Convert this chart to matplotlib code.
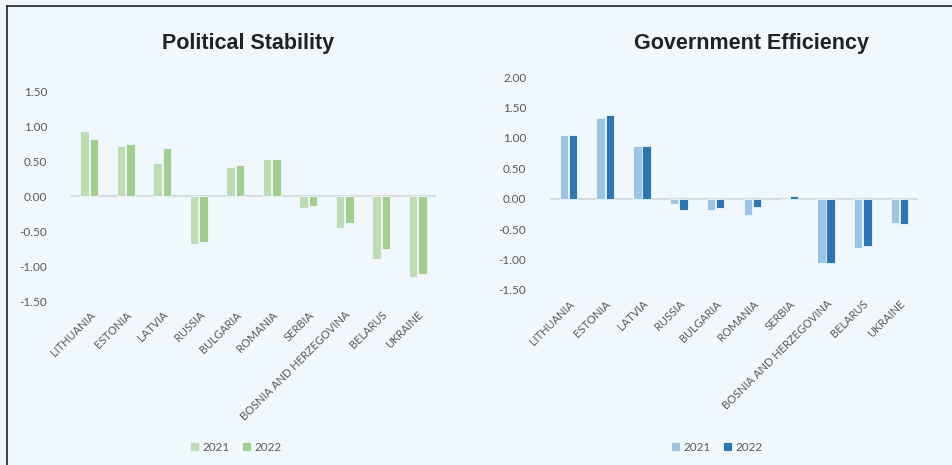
import matplotlib
matplotlib.use("Agg")
import matplotlib.pyplot as plt
import numpy as np

countries = ["LITHUANIA", "ESTONIA", "LATVIA", "RUSSIA", "BULGARIA", "ROMANIA",
             "SERBIA", "BOSNIA AND HERZEGOVINA", "BELARUS", "UKRAINE"]
years = ["2021", "2022"]

stability_2021 = [0.93, 0.72, 0.47, -0.69, 0.42, 0.53, -0.17, -0.45, -0.90, -1.15]
stability_2022 = [0.81, 0.75, 0.68, -0.65, 0.45, 0.53, -0.14, -0.39, -0.75, -1.11]

efficiency_2021 = [1.05, 1.32, 0.87, -0.09, -0.19, -0.27, -0.02, -1.05, -0.81, -0.40]
efficiency_2022 = [1.05, 1.37, 0.87, -0.19, -0.15, -0.14, 0.04, -1.05, -0.78, -0.42]

stability_ticks = [-1.5, -1.0, -0.5, 0.0, 0.5, 1.0, 1.5]
efficiency_ticks = [-1.5, -1.0, -0.5, 0.0, 0.5, 1.0, 1.5, 2.0]

bg = "#F0F8FE"
label_col = "#595959"

fig = plt.figure(figsize=(9.52, 4.65), dpi=100)
fig.patch.set_facecolor(bg)

# frame lines (top and left edge of the screenshot)
fig.add_artist(plt.Line2D([7/952, 1], [1 - 6/465, 1 - 6/465], color="#222222", lw=1.2))
fig.add_artist(plt.Line2D([7/952, 7/952], [0, 1 - 6/465], color="#222222", lw=1.2))


def draw(ax, v21, v22, colors, ticks, ylim, title, title_x, legend_x):
    x = np.arange(len(countries))
    w = 0.23
    ax.bar(x - 0.125, v21, w, color=colors[0], edgecolor=bg, linewidth=0.6, label=years[0], zorder=3)
    ax.bar(x + 0.125, v22, w, color=colors[1], edgecolor=bg, linewidth=0.6, label=years[1], zorder=3)
    ax.set_facecolor(bg)
    ax.set_xlim(-0.5, len(countries) - 0.5)
    ax.set_ylim(*ylim)
    ax.axhline(0, color="#D5DCE2", lw=1.6, zorder=2)
    for s in ax.spines.values():
        s.set_visible(False)
    ax.set_yticks(ticks)
    ax.set_yticklabels([f"{t:.2f}" for t in ticks], fontsize=8.5, color=label_col, family="Lato")
    ax.set_xticks(x)
    ax.set_xticklabels(countries, rotation=45, ha="right", rotation_mode="anchor",
                       fontsize=8, color=label_col, family="Lato")
    ax.tick_params(length=0, axis="y", pad=17)
    ax.tick_params(length=0, axis="x", pad=6)
    fig.text(title_x, 1 - 43/465, title, ha="center", va="center", fontsize=15.5,
             fontweight="bold", color="#222222", family="Liberation Sans")
    leg = fig.legend(handles=ax.containers, labels=years, loc="center",
                     bbox_to_anchor=(legend_x, 1 - 447/465), ncol=2, frameon=False,
                     prop={"family": "Lato", "size": 8.5}, handlelength=0.8, handleheight=0.8,
                     handletextpad=0.3, columnspacing=1.0)
    for t in leg.get_texts():
        t.set_color(label_col)


ax1 = fig.add_axes([71/952, 1 - 301/465, 365/952, 210/465])
draw(ax1, stability_2021, stability_2022, ["#BEDDB5", "#A2CF8F"], stability_ticks,
     (-1.5, 1.5), "Political Stability", 248/952, 236/952)

ax2 = fig.add_axes([550/952, 1 - 290/465, 368/952, 213/465])
draw(ax2, efficiency_2021, efficiency_2022, ["#9DC3E6", "#2E75B6"], efficiency_ticks,
     (-1.5, 2.0), "Government Efficiency", 752/952, 717/952)

fig.savefig("out.png", dpi=100, facecolor=bg)
